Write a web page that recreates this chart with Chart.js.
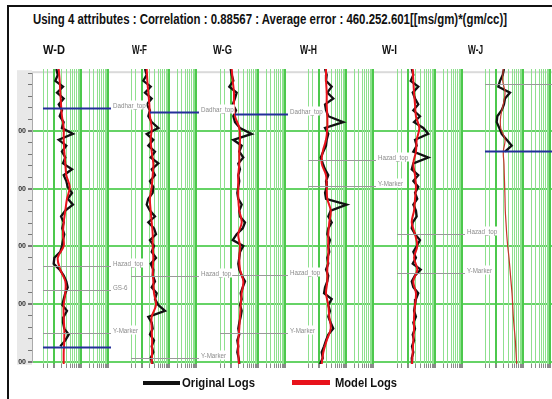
<!DOCTYPE html>
<html>
<head>
<meta charset="utf-8">
<script src="https://cdn.jsdelivr.net/npm/chart.js@4.4.1/dist/chart.umd.min.js"></script>
<style>
    html, body { margin: 0; padding: 0; background: #fff; width: 552px; height: 399px; overflow: hidden; }
    body { position: relative; font-family: "Liberation Sans Narrow", "Liberation Sans", Arial, sans-serif; }
    #frame { position: absolute; left: 7px; top: 5px; width: 560px; height: 400px; border-left: 2px solid #111; border-top: 2px solid #111; }
    canvas { position: absolute; }
    .txt { position: absolute; white-space: nowrap; font-weight: bold; color: #111; transform-origin: left center; }
    .swatch { position: absolute; }
</style>
</head>
<body>
<div id="frame"></div>
<canvas id="depthAxis" width="544" height="301" style="left:8px;top:67px;z-index:0"></canvas>
<div class="swatch" style="left:143px;top:381px;width:37px;height:4px;background:#111"></div>
<div class="swatch" style="left:292px;top:380px;width:38px;height:5px;background:#e8121b"></div>

<script>
// Depth samples (original logs every 10, model logs every 20)
const depthFine = [1000, 1010, 1020, 1030, 1040, 1050, 1060, 1070, 1080, 1090,
    1100, 1110, 1120, 1130, 1140, 1150, 1160, 1170, 1180, 1190,
    1200, 1210, 1220, 1230, 1240, 1250, 1260, 1270, 1280, 1290,
    1300, 1310, 1320, 1330, 1340, 1350, 1360, 1370, 1380, 1390,
    1400, 1410, 1420, 1430, 1440, 1450, 1460, 1470, 1480, 1490, 1500];
const depthCoarse = [1000, 1020, 1040, 1060, 1080, 1100, 1120, 1140, 1160, 1180,
    1200, 1220, 1240, 1260, 1280, 1300, 1320, 1340, 1360, 1380,
    1400, 1420, 1440, 1460, 1480, 1500];

// Depth axis ticks
const depthTicks = [1100, 1200, 1300, 1400, 1500];
const depthTickLabels = ['00', '00', '00', '00', '00'];

// Log grid of every track
const gridValues = [4, 6, 10, 20, 30, 40, 50, 60, 70, 80, 90, 100,
    200, 300, 400, 500, 600, 700, 800, 900, 1000];

const wellNames = ['W-D', 'W-F', 'W-G', 'W-H', 'W-I', 'W-J'];

// Original logs
const origWD = [12.4, 14.0, 11.4, 21.9, 13.1, 23.2, 15.2, 20.0, 16.5, 23.2,
    20.0, 51, 15.2, 29.0, 20.0, 26.6, 21.9, 47, 23.2, 29.0,
    32.6, 47, 32.6, 51, 26.6, 18.5, 23.2, 20.6, 24.4, 21.9,
    20.0, 17.4, 10.5, 9.9, 16.5, 23.2, 29.0, 32.6, 26.6, 23.2,
    20.6, 30.7, 23.2, 21.9, 24.4, 35.5, 26.6, 17.4];
const origWF = [13.1, 15.2, 11.4, 21.3, 13.1, 23.2, 15.2, 20.0, 17.4, 23.2,
    40.7, 15.2, 26.6, 17.4, 30.7, 21.3, 40.7, 23.2, 30.7, 20.0,
    26.6, 25.3, 17.4, 15.2, 20.0, 30.7, 17.4, 28.2, 33.5, 20.0,
    28.2, 23.2, 33.5, 21.3, 26.6, 25.3, 30.7, 23.2, 35.5, 30.7,
    40.7, 71.9, 17.4, 23.2, 25.3, 20.0, 28.2, 23.2, 26.6, 21.3, 25.3];
const origWG = [9.9, 10.8, 12.4, 8.8, 16.5, 14.3, 11.8, 15.6, 12.4, 14.3,
    21.9, 59, 12.4, 25.3, 20.6, 29.0, 18.9, 21.9, 18.9, 20.6,
    18.9, 17.4, 18.9, 25.3, 20.6, 21.9, 33.5, 27.5, 16.5, 11.8,
    29.0, 21.9, 20.6, 18.9, 20.6, 25.3, 33.5, 27.5, 23.2, 25.3,
    21.9, 25.3, 23.2, 20.6, 18.9, 20.6, 17.4, 18.9, 17.4, 19.6, 20.6];
const origWH = [17, 19.6, 18.5, 30, 20.6, 34.3, 17, 18.5, 22.4, 80,
    17, 22.4, 19.6, 18.5, 14.7, 11.8, 14.0, 17, 22.4, 18.5,
    19.6, 17, 18.5, 107, 27.5, 22.4, 30, 22.4, 20.6, 25.9,
    22.4, 24.4, 20.6, 22.4, 18.5, 22.4, 20.6, 17, 15.6, 30,
    22.4, 25.9, 22.4, 27.5, 34.3, 22.4, 18.5, 15.6, 12.8, 14.0, 11.1];
const origWI = [14.0, 16.0, 12.8, 24.4, 15.2, 18.5, 24.4, 16.0, 28.2, 17,
    37.4, 57, 18.5, 21.3, 16.0, 57, 16.0, 14.0, 24.4, 16.0,
    24.4, 18.5, 22.4, 16.0, 20.0, 21.3, 15.2, 14.0, 18.5, 28.2,
    21.3, 16.0, 20.0, 15.2, 30, 18.5, 14.0, 16.0, 24.4, 20.0,
    18.5, 17, 20.0, 16.0, 18.5, 15.2, 17, 14.3, 16.0, 14.0, 14.3];
const origWJ = [20.0, 18, 14.3, 12.4, 33.5, 21.9, 20.0, 16.5, 11.4, 10.8,
    13.5, 16.5, 25.3, 38.7, 21.9];

// Model logs
const modelWD = [15.2, 16.5, 17.4, 18.5, 20.0, 23.2, 23.2, 24.4, 26.6, 29.0,
    38.7, 30.7, 26.6, 23.2, 21.9, 23.2, 14.0, 17.4, 26.6, 26.6,
    23.2, 23.2, 24.4, 24.4, 23.2, 23.2];
const modelWF = [15.2, 16.0, 17.4, 19.0, 20.0, 23.2, 21.3, 23.2, 26.6, 25.3,
    23.2, 20.0, 21.3, 23.2, 25.3, 25.3, 26.6, 25.3, 26.6, 28.2,
    33.5, 23.2, 23.2, 24.0, 24.0, 23.2];
const modelWG = [10.8, 11.8, 13.1, 13.1, 14.3, 20.6, 21.9, 20.6, 20.6, 18.9,
    18.9, 18.9, 20.6, 25.3, 18.9, 21.9, 20.6, 21.9, 29.0, 25.3,
    23.2, 21.9, 20.6, 18.9, 18.9, 20.0];
const modelWH = [18.5, 18.5, 19.6, 19.6, 20.6, 20.6, 18.5, 14.0, 12.8, 18.5,
    19.6, 20.6, 27.5, 24.4, 22.4, 22.4, 22.4, 20.6, 20.6, 18.5,
    22.4, 24.4, 27.5, 19.6, 14.7, 12.8];
const modelWI = [15.2, 16.0, 17, 18.5, 20, 26.6, 21.3, 20, 16.0, 18.5,
    20, 18.5, 17, 14.0, 18.5, 22.4, 17, 22.4, 16.0, 20,
    18.5, 17, 17, 16.0, 15.2, 14.3];
const modelWJ = [18.9, 18, 21.9, 18.9, 15.2, 15.2, 21.9, 18.9, 20.0, 20.6,
    21.3, 21.9, 22.4, 23.8, 25.3, 27.5, 30.7, 33.5, 36.4, 39.7,
    42, 44.3, 48.2, 52.5, 55.7, 59];

// Formation tops: [name, depth, kind, optional start value]
const topsWD = [['Dadhar_top', 1066, 'blue'], ['Hazad_top', 1334, 'gray'], ['GS-6', 1374, 'gray'],
    ['Y-Marker', 1447, 'gray'], ['', 1471, 'blue']];
const topsWF = [['Dadhar_top', 1073, 'blue', 20], ['Hazad_top', 1350, 'gray'], ['Y-Marker', 1489, 'gray']];
const topsWG = [['Dadhar_top', 1076, 'blue', 14.3], ['Hazad_top', 1349, 'gray'], ['Y-Marker', 1447, 'gray']];
const topsWH = [['Hazad_top', 1155, 'gray'], ['Y-Marker', 1198, 'gray']];
const topsWI = [['Hazad_top', 1280, 'gray'], ['Y-Marker', 1345, 'gray']];
const topsWJ = [['', 1025, 'gray'], ['', 1139, 'blue']];

// Layout (pixels)
const trackLeft = [43, 131, 220, 308, 397, 485];
const trackWidth = 65;
const headerLeft = [43, 132, 213, 300, 382, 468];
const headerWidth = [22, 15, 19, 17, 15, 15];

const LABEL_FONT = '"Liberation Sans Narrow", "Liberation Sans", Arial, sans-serif';

function pairs(depths, vals) {
    const out = [];
    vals.forEach((v, i) => {
        if (v !== null) out.push({ x: v, y: depths[i] });
    });
    return out;
}

function placeText(text, left, width, cy, size) {
    const el = document.createElement('div');
    el.className = 'txt';
    el.textContent = text;
    el.style.fontSize = size + 'px';
    el.style.lineHeight = size + 'px';
    el.style.left = left + 'px';
    el.style.top = (cy - size / 2) + 'px';
    el.style.zIndex = 20;
    document.body.appendChild(el);
    const w = el.getBoundingClientRect().width;
    el.style.transform = 'scaleX(' + (width / w).toFixed(3) + ')';
}

// Formation top lines and their labels
const wellTopsPlugin = {
    id: 'wellTops',
    afterDatasetsDraw(chart, args, opts) {
        const { ctx, chartArea, scales } = chart;
        ctx.save();
        opts.tops.forEach(t => {
            const y = Math.round(scales.y.getPixelForValue(t[1])) + 0.5;
            const x0 = t[3] ? scales.x.getPixelForValue(t[3]) : chartArea.left;
            ctx.beginPath();
            ctx.moveTo(x0, y);
            ctx.lineTo(chartArea.right + 3, y);
            if (t[2] === 'blue') {
                ctx.strokeStyle = '#25309a';
                ctx.lineWidth = 2;
            } else {
                ctx.strokeStyle = '#9a9a9a';
                ctx.lineWidth = 1;
            }
            ctx.stroke();
            if (t[0]) {
                const sx = 0.78;
                ctx.save();
                ctx.font = '8px ' + LABEL_FONT;
                const w = ctx.measureText(t[0]).width * sx;
                const lx = chartArea.right + 5;
                ctx.fillStyle = '#fff';
                ctx.fillRect(lx - 1, y - 8, w + 2, 9);
                ctx.translate(lx, y - 3);
                ctx.scale(sx, 1);
                ctx.fillStyle = '#8c8c8c';
                ctx.textBaseline = 'middle';
                ctx.fillText(t[0], 0, 0);
                ctx.restore();
            }
        });
        ctx.restore();
    }
};

// Gray strip beside the depth axis and the top edge
const depthBandPlugin = {
    id: 'depthBand',
    beforeDraw(chart) {
        const { ctx, chartArea } = chart;
        ctx.save();
        ctx.fillStyle = '#e8e8e8';
        ctx.fillRect(9, chartArea.top - 3, chartArea.left - 9, chartArea.bottom - chartArea.top + 6);
        ctx.fillStyle = '#dadada';
        ctx.fillRect(chartArea.left, chartArea.top - 2, chartArea.right - chartArea.left, 2);
        ctx.restore();
    }
};

function initDepthAxis() {
    new Chart(document.getElementById('depthAxis'), {
        type: 'scatter',
        data: { datasets: [] },
        options: {
            responsive: false,
            animation: false,
            events: [],
            layout: { padding: { top: 2, right: 0, bottom: 4, left: 0 } },
            plugins: { legend: { display: false }, tooltip: { enabled: false } },
            scales: {
                x: { type: 'linear', display: false, min: 0, max: 1 },
                y: {
                    type: 'linear',
                    reverse: true,
                    min: 1000,
                    max: 1500,
                    afterFit: s => { s.width = 24; },
                    ticks: {
                        stepSize: 20,
                        autoSkip: false,
                        padding: 2,
                        color: '#333',
                        font: { size: 7, weight: 'bold', family: LABEL_FONT },
                        callback: function(value) {
                            const i = depthTicks.indexOf(value);
                            return i >= 0 ? depthTickLabels[i] : '';
                        }
                    },
                    grid: {
                        color: c => depthTicks.includes(c.tick.value) ? '#66d366' : 'rgba(0,0,0,0)',
                        lineWidth: c => depthTicks.includes(c.tick.value) ? 2 : 1,
                        tickColor: '#777',
                        tickLength: 4
                    },
                    border: { display: true, color: '#aaa' }
                }
            }
        },
        plugins: [depthBandPlugin]
    });
}

function initTrack(i, orig, model, tops) {
    const canvas = document.createElement('canvas');
    canvas.width = trackWidth + 45;
    canvas.height = 301;
    canvas.style.left = trackLeft[i] + 'px';
    canvas.style.top = '67px';
    // earlier tracks on top so their labels overlap the next track
    canvas.style.zIndex = 10 - i;
    document.body.appendChild(canvas);

    const lastWell = i === wellNames.length - 1;
    new Chart(canvas, {
        type: 'line',
        data: {
            datasets: [{
                label: 'Model Logs',
                data: pairs(depthCoarse, model),
                borderColor: lastWell ? '#c4372c' : '#e8121b',
                borderWidth: lastWell ? 1.2 : 2,
                pointRadius: 0,
                tension: 0.35,
                order: 0
            }, {
                label: 'Original Logs',
                data: pairs(depthFine, orig),
                borderColor: '#111',
                borderWidth: 2.3,
                pointRadius: 0,
                tension: 0,
                order: 1
            }]
        },
        options: {
            responsive: false,
            animation: false,
            events: [],
            layout: { padding: { top: 2, right: 45, bottom: 0, left: 0 } },
            plugins: {
                legend: { display: false },
                tooltip: { enabled: false },
                wellTops: { tops: tops }
            },
            scales: {
                x: {
                    type: 'logarithmic',
                    min: 4,
                    max: 1000,
                    afterBuildTicks: s => { s.ticks = gridValues.map(v => ({ value: v })); },
                    afterFit: s => { s.height = 4; },
                    ticks: { display: false },
                    grid: {
                        color: c => [10, 100, 1000].includes(c.tick.value) ? '#4cc84c' : '#8ee08e',
                        lineWidth: c => [10, 100, 1000].includes(c.tick.value) ? 2 : 1,
                        drawTicks: true,
                        tickLength: 4,
                        tickColor: '#8a8a8a'
                    },
                    border: { display: false }
                },
                y: { type: 'linear', reverse: true, min: 1000, max: 1500, display: false }
            }
        },
        plugins: [wellTopsPlugin]
    });
}

document.addEventListener('DOMContentLoaded', function() {
    initDepthAxis();
    initTrack(0, origWD, modelWD, topsWD);
    initTrack(1, origWF, modelWF, topsWF);
    initTrack(2, origWG, modelWG, topsWG);
    initTrack(3, origWH, modelWH, topsWH);
    initTrack(4, origWI, modelWI, topsWI);
    initTrack(5, origWJ, modelWJ, topsWJ);

    placeText('Using 4 attributes : Correlation : 0.88567 : Average error : 460.252.601[[ms/gm)*(gm/cc)]', 33, 474, 19, 14);
    wellNames.forEach((name, i) => placeText(name, headerLeft[i], headerWidth[i], 49, 13));
    placeText('Original Logs', 182, 73, 382, 13);
    placeText('Model Logs', 335, 62, 382, 13);
});
</script>
</body>
</html>
